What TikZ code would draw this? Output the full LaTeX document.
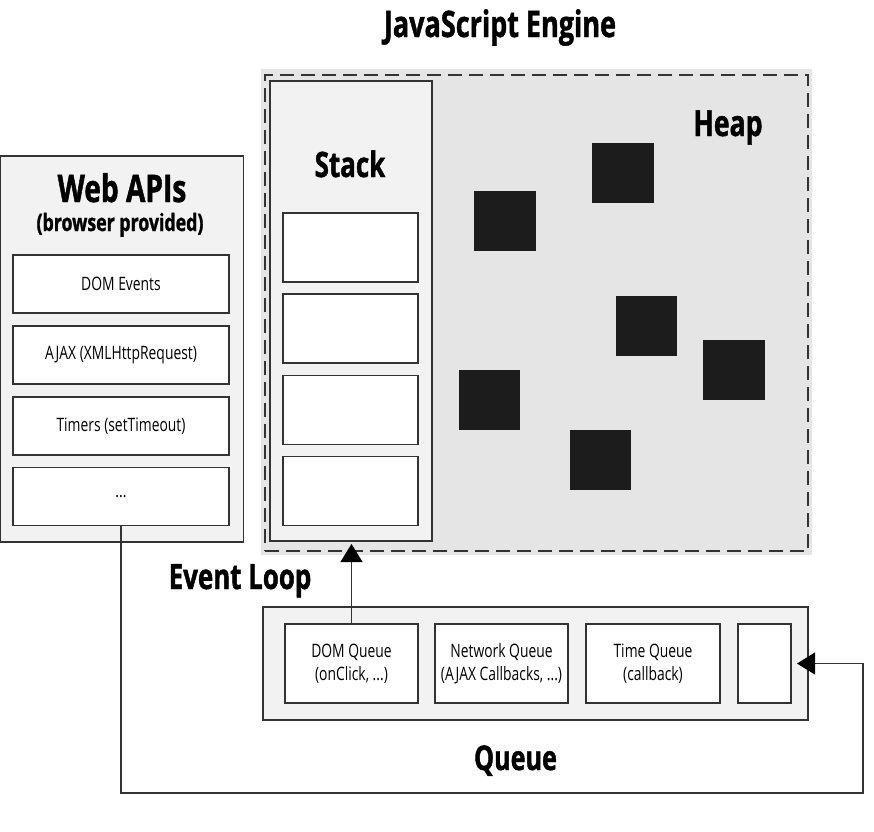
\documentclass[tikz,border=0pt]{standalone}
\usepackage{fontspec}
\setmainfont[FakeStretch=0.75]{Open Sans}
\newfontfamily\headfont[FakeStretch=0.74, FakeBold=1.2]{Open Sans}
\usetikzlibrary{arrows.meta}
\definecolor{engfill}{HTML}{E5E5E5}
\definecolor{boxfill}{HTML}{F2F2F2}
\definecolor{edge}{HTML}{333333}
\definecolor{blob}{HTML}{1C1C1C}
\begin{document}
\begin{tikzpicture}[x=1pt,y=-1pt,
  box/.style={draw=edge, line width=1.2pt, inner sep=0pt, outer sep=0pt},
  panel/.style={box, fill=boxfill},
  slot/.style={box, fill=white, font=\fontsize{18.5}{23}\selectfont, align=center},
  blk/.style={fill=blob, inner sep=0pt, outer sep=0pt, minimum width=61.5pt, minimum height=60pt},
  head/.style={font=\headfont\bfseries\fontsize{#1}{#1}\selectfont, anchor=base, inner sep=0pt},
  conn/.style={draw=edge, line width=1.2pt},
  tip/.style={-{Triangle[length=18pt,width=22pt,color=black]}}
]
\useasboundingbox (0,0) rectangle (874,831);

% JavaScript engine
\node[fill=engfill, inner sep=0pt, minimum width=551pt, minimum height=486pt] (engine) at (536.5,312) {};
\node[draw=edge, line width=1.2pt, dash pattern=on 14pt off 7pt, inner sep=0pt,
      minimum width=543pt, minimum height=476pt] (enginedash) at (536.5,313) {};
\node[head=36.5] (title) at (500,37) {JavaScript Engine};

% Stack
\node[panel, minimum width=162pt, minimum height=460pt] (stack) at (351,311) {};
\node[head=35] (stacklbl) at (350,177) {Stack};
\node[slot, minimum width=135pt, minimum height=69pt] (f1) at (350.5,247.5) {};
\node[slot, minimum width=135pt, minimum height=69pt] (f2) at (350.5,328.5) {};
\node[slot, minimum width=135pt, minimum height=69pt] (f3) at (350.5,410) {};
\node[slot, minimum width=135pt, minimum height=69pt] (f4) at (350.5,491) {};

% Heap
\node[head=36] (heaplbl) at (728,136) {Heap};
\node[blk] (b1) at (505,221) {};
\node[blk] (b2) at (623,172.5) {};
\node[blk] (b3) at (646.3,325.5) {};
\node[blk] (b4) at (734,370.3) {};
\node[blk] (b5) at (489.7,400) {};
\node[blk] (b6) at (600.3,460) {};

% Web APIs
\node[panel, minimum width=243pt, minimum height=386pt] (web) at (122,349) {};
\node[head=38] (weblbl) at (122,202) {Web APIs};
\node[head=24] (websub) at (120,231) {(browser provided)};
\node[slot, minimum width=216pt, minimum height=58pt] (dom) at (121,284) {DOM Events};
\node[slot, minimum width=216pt, minimum height=58pt] (ajax) at (121,355) {AJAX (XMLHttpRequest)};
\node[slot, minimum width=216pt, minimum height=58pt] (timers) at (121,426) {Timers (setTimeout)};
\node[slot, minimum width=216pt, minimum height=58pt] (more) at (121,496.5) {...};

% Event loop label
\node[head=35] (looplbl) at (240,589) {Event Loop};

% Queue
\node[panel, minimum width=545pt, minimum height=113pt] (queue) at (535.5,663.5) {};
\node[slot, minimum width=133pt, minimum height=79pt] (domq) at (351.5,663.5) {DOM Queue\\(onClick, ...)};
\node[slot, minimum width=133pt, minimum height=79pt] (netq) at (501.5,663.5) {Network Queue\\(AJAX Callbacks, ...)};
\node[slot, minimum width=134pt, minimum height=79pt] (timeq) at (653,663.5) {Time Queue\\(callback)};
\node[slot, minimum width=53pt, minimum height=79pt] (spare) at (764.5,663.5) {};
\node[head=34] (queuelbl) at (515.5,770) {Queue};

% connectors
\coordinate (corner) at (863,793);
\draw[conn, tip, shorten >=3pt] (domq.north) -- (domq.north |- stack.south);
\draw[conn, tip, shorten >=6pt] (more.south) |- (corner) |- (spare.east);
\end{tikzpicture}
\end{document}
